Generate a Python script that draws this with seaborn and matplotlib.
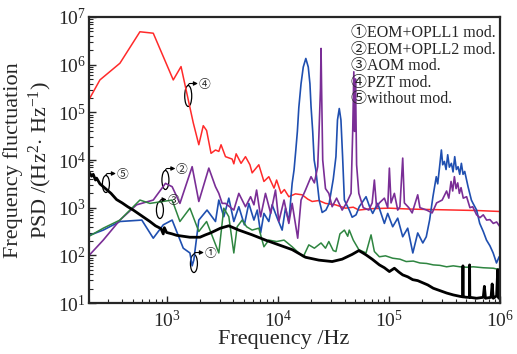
import numpy as np
import pandas as pd
import seaborn as sns
import matplotlib.pyplot as plt
from matplotlib.patches import Ellipse
from matplotlib.ticker import NullFormatter
from matplotlib.transforms import ScaledTranslation

# values, stored as decades (log10)
red_logf = [2.30, 2.40, 2.58, 2.76, 2.88, 3.06, 3.13, 3.24, 3.29, 3.33, 3.36, 3.40, 3.44, 3.47,
            3.49, 3.53, 3.59, 3.605, 3.626, 3.67, 3.71, 3.75, 3.77, 3.83, 3.876, 3.92, 3.967,
            3.99, 4.03, 4.06, 4.10, 4.16, 4.22, 4.27, 4.31, 4.37, 4.43, 4.52, 4.61, 4.68, 4.73,
            4.85, 5.00, 5.20, 5.40, 5.60, 5.80, 6.00]
red_logpsd = [5.26, 5.68, 6.03, 6.69, 6.66, 5.68, 5.96, 4.78, 4.32, 4.72, 4.62, 4.14, 4.21, 4.18,
              4.32, 4.07, 4.02, 3.92, 4.13, 3.93, 4.07, 3.90, 3.73, 3.90, 3.55, 3.65, 3.41,
              3.58, 3.30, 3.38, 3.23, 3.29, 3.27, 3.18, 3.13, 3.15, 3.09, 3.06, 2.99, 3.01, 2.95,
              2.98, 2.99, 2.97, 2.96, 2.95, 2.94, 2.92]

blue_logf = [2.295, 2.43, 2.58, 2.777, 2.88, 2.97, 3.05, 3.15, 3.21, 3.23, 3.245, 3.29, 3.364,
             3.44, 3.47, 3.515, 3.56, 3.605, 3.65, 3.70, 3.74, 3.786, 3.816, 3.846, 3.876, 3.92,
             3.95, 3.996, 4.04, 4.07, 4.10, 4.13, 4.147, 4.163, 4.177, 4.19, 4.21, 4.23, 4.253,
             4.275, 4.29, 4.30, 4.315, 4.328, 4.343, 4.373, 4.40, 4.434, 4.463, 4.50, 4.524,
             4.538, 4.554, 4.569, 4.584, 4.60, 4.644, 4.67, 4.705, 4.734, 4.795, 4.83, 4.855,
             4.90, 4.96, 4.99, 5.035, 5.08, 5.125, 5.17, 5.216, 5.26, 5.306, 5.337, 5.367, 5.397,
             5.427, 5.44, 5.457, 5.473, 5.485, 5.50, 5.515, 5.53, 5.545, 5.563, 5.578, 5.593,
             5.608, 5.623, 5.638, 5.653, 5.668, 5.683, 5.713, 5.743, 5.758, 5.79, 5.818, 5.85,
             5.879, 5.91, 5.939, 5.969, 5.993]
blue_logpsd = [2.41, 2.53, 2.71, 2.74, 2.36, 2.64, 2.74, 2.15, 2.05, 1.78, 1.90, 2.74, 2.95,
               2.71, 3.16, 2.81, 3.20, 2.71, 3.02, 2.64, 3.09, 2.74, 2.95, 2.47, 2.88, 2.71,
               3.06, 2.78, 2.53, 2.99, 2.71, 3.51, 3.79, 4.21, 4.60, 5.10, 5.60, 5.95, 6.13,
               5.95, 5.60, 5.12, 4.60, 4.00, 3.79, 3.16, 2.90, 2.95, 3.09, 3.60, 4.07,
               4.84, 5.08, 4.84, 4.07, 3.16, 2.95, 2.80, 2.85, 3.02, 3.23, 3.00, 2.88,
               3.09, 2.67, 2.88, 2.60, 2.78, 2.39, 2.57, 2.05, 2.47, 2.26, 2.39, 2.74, 3.23,
               3.65, 3.50, 3.86, 4.21, 3.90, 3.97, 3.80, 4.11, 3.85, 3.93, 3.75, 4.07,
               3.80, 3.86, 3.70, 3.93, 3.70, 3.76, 3.44, 3.16, 3.09, 2.95, 2.67, 2.50,
               2.32, 2.20, 2.05, 1.84, 1.97]

purple_logf = [2.295, 2.43, 2.58, 2.73, 2.88, 2.99, 3.05, 3.12, 3.23, 3.29, 3.38, 3.44, 3.47,
               3.50, 3.53, 3.605, 3.65, 3.71, 3.756, 3.786, 3.81, 3.846, 3.89, 3.937, 3.98,
               4.01, 4.057, 4.10, 4.13, 4.18, 4.21, 4.25, 4.30, 4.33, 4.36, 4.37, 4.385, 4.39,
               4.395, 4.405, 4.43, 4.46, 4.49, 4.53, 4.58, 4.62, 4.66, 4.675, 4.685, 4.692,
               4.70, 4.71, 4.73, 4.77, 4.82, 4.85, 4.87, 4.89, 4.915, 4.96, 4.99, 5.005, 5.02,
               5.05, 5.08, 5.10, 5.125, 5.14, 5.18, 5.21, 5.26, 5.28, 5.34, 5.39, 5.43, 5.48,
               5.52, 5.54, 5.56, 5.575, 5.59, 5.605, 5.62, 5.635, 5.65, 5.67, 5.70, 5.73,
               5.755, 5.79, 5.82, 5.85, 5.88, 5.91, 5.94, 5.97, 6.00]
purple_logpsd = [1.98, 2.32, 2.74, 3.06, 3.16, 3.51, 3.44, 3.09, 3.86, 3.13, 3.83, 3.44, 3.30,
                 3.09, 3.09, 2.95, 3.30, 3.02, 3.23, 3.06, 3.37, 2.81, 3.30, 2.88, 3.37,
                 2.71, 3.16, 2.67, 3.09, 2.36, 3.16, 3.37, 3.65, 3.52, 3.86, 4.47, 5.50, 6.34,
                 5.50, 4.00, 3.40, 3.30, 3.02, 3.20, 2.95, 3.10, 3.30, 4.60, 5.85, 4.60,
                 5.70, 3.90, 3.30, 3.00, 2.95, 3.10, 3.58, 3.00, 3.10, 3.20, 3.00, 3.83, 3.10,
                 3.30, 2.95, 3.02, 4.04, 3.10, 3.00, 2.89, 3.27, 3.00, 2.95, 2.89, 3.10, 3.16,
                 3.35, 3.20, 3.55, 3.35, 3.65, 3.40, 3.52, 3.30, 3.42, 3.20, 3.23, 3.00,
                 3.02, 2.85, 2.79, 2.85, 2.74, 2.75, 2.67, 2.70, 2.60]

green_logf = [2.295, 2.43, 2.58, 2.76, 2.85, 3.05, 3.12, 3.21, 3.29, 3.36, 3.47, 3.515, 3.56,
              3.605, 3.635, 3.68, 3.72, 3.77, 3.83, 3.876, 3.92, 3.99, 4.057, 4.13, 4.19, 4.23,
              4.28, 4.33, 4.39, 4.43, 4.46, 4.50, 4.524, 4.56, 4.60, 4.63, 4.644, 4.68, 4.73,
              4.795, 4.84, 4.87, 4.915, 4.97, 5.035, 5.10, 5.156, 5.22, 5.28, 5.34, 5.40, 5.46,
              5.52, 5.58, 5.64, 5.70, 5.76, 5.85, 5.94, 5.98, 6.00]
green_logpsd = [2.39, 2.57, 2.74, 3.16, 3.09, 3.16, 2.71, 2.99, 2.50, 2.71, 2.05, 2.99, 2.81,
                2.05, 2.60, 2.74, 2.60, 2.53, 2.57, 2.18, 2.32, 2.29, 2.32, 2.18, 2.05, 1.97,
                2.22, 2.15, 2.26, 2.15, 2.29, 2.10, 2.08, 2.45, 2.53, 2.40, 2.53, 2.32, 2.12,
                2.05, 2.43, 2.08, 1.97, 1.99, 1.94, 1.92, 1.87, 1.88, 1.84, 1.83, 1.80, 1.79,
                1.76, 1.78, 1.76, 1.75, 1.76, 1.74, 1.73, 1.71, 1.72]

black_logf = [2.29, 2.295, 2.30, 2.31, 2.325, 2.34, 2.36, 2.37, 2.40, 2.43, 2.46, 2.50, 2.55,
              2.60, 2.65, 2.70, 2.75, 2.80, 2.85, 2.90, 2.95, 2.97, 2.98, 3.00, 3.05, 3.09,
              3.15, 3.21, 3.30, 3.35, 3.395, 3.485, 3.56, 3.65, 3.77, 3.89, 4.01, 4.13, 4.25,
              4.37, 4.49, 4.58, 4.67, 4.73, 4.76, 4.795, 4.85, 4.915, 4.96, 5.005, 5.05, 5.09,
              5.125, 5.17, 5.215, 5.26, 5.31, 5.35, 5.40, 5.46, 5.52, 5.58, 5.64, 5.665, 5.667,
              5.669, 5.70, 5.725, 5.727, 5.729, 5.79, 5.85, 5.86, 5.87, 5.92, 5.93, 5.94, 5.97,
              5.98, 5.99, 6.00]
black_logpsd = [3.60, 3.75, 3.68, 3.72, 3.66, 3.70, 3.58, 3.62, 3.50, 3.44, 3.38, 3.30, 3.17,
                3.10, 3.02, 2.95, 2.87, 2.79, 2.71, 2.62, 2.56, 2.45, 2.58, 2.48, 2.45, 2.42,
                2.40, 2.38, 2.38, 2.43, 2.47, 2.57, 2.62, 2.53, 2.43, 2.32, 2.22, 2.12, 1.96,
                1.90, 1.87, 1.92, 2.02, 2.10, 2.06, 2.01, 1.92, 1.80, 1.74, 1.66, 1.73, 1.65,
                1.59, 1.55, 1.49, 1.47, 1.42, 1.38, 1.31, 1.26, 1.21, 1.17, 1.14, 1.13, 1.78,
                1.13, 1.12, 1.12, 1.80, 1.12, 1.10, 1.12, 1.35, 1.10, 1.12, 1.40, 1.10, 1.15,
                1.70, 1.10, 1.30]

legend_lines = ["①EOM+OPLL1 mod.", "②EOM+OPLL2 mod.", "③AOM mod.", "④PZT mod.", "⑤without mod."]

sns.set_style("ticks")
plt.rcParams['font.family'] = ['Liberation Serif', 'Noto Sans CJK JP', 'DejaVu Sans']
plt.rcParams['mathtext.fontset'] = 'custom'
plt.rcParams['mathtext.rm'] = 'Liberation Serif'
plt.rcParams['mathtext.it'] = 'Liberation Serif:italic'

fig = plt.figure(figsize=(5.17, 3.54), dpi=100)
ax = fig.add_axes([0.172, 0.144, 0.795, 0.808])

series = [
    (red_logf, red_logpsd, '#ff2a2a', 1.1),
    (blue_logf, blue_logpsd, '#1f4fb0', 1.2),
    (purple_logf, purple_logpsd, '#7a2e96', 1.2),
    (green_logf, green_logpsd, '#2e8540', 1.1),
    (black_logf, black_logpsd, 'black', 2.0),
]
for lf, lp, col, lw in series:
    df = pd.DataFrame({'f': 10 ** np.array(lf), 'psd': 10 ** np.array(lp)})
    sns.lineplot(data=df, x='f', y='psd', color=col, lw=lw, sort=False, estimator=None, ax=ax)

ax.set_xscale('log')
ax.set_yscale('log')
ax.set_xlim(200, 1e6)
ax.set_ylim(10, 1e7)
ax.xaxis.set_minor_formatter(NullFormatter())
ax.yaxis.set_minor_formatter(NullFormatter())
ax.set_xlabel('Frequency /Hz', fontsize=16)
ax.xaxis.set_label_coords(0.473, -0.095)
ax.set_ylabel('Frequency fluctuation\nPSD /(Hz$^2$$\\cdot$ Hz$^{-1}$)', fontsize=16, labelpad=3,
              linespacing=1.2)
ax.tick_params(which='both', direction='in', labelsize=14)
ax.tick_params(which='major', length=5, width=1)
ax.tick_params(which='minor', length=3, width=0.8)
ax.tick_params(axis='y', which='major', pad=2)
ax.tick_params(axis='x', which='major', pad=5)
for s in ax.spines.values():
    s.set_linewidth(1.6)

ax.text(0.637, 0.972, "\n".join(legend_lines), transform=ax.transAxes, va='top', ha='left',
        fontsize=11.5, linespacing=1.05)

# ellipse markers, hooked arrows and circled numbers (figure pixels of the layout)
marks = [
    ("④", 188.3, 96.0, 21, 198.0, 83.5),
    ("⑤", 106.0, 184.0, 17, 116.0, 173.5),
    ("②", 165.5, 180.0, 19, 175.5, 168.5),
    ("③", 160.0, 210.0, 17, 166.7, 199.5),
    ("①", 194.0, 263.5, 18, 204.0, 252.5),
]


def to_ax(px, py):
    return (px - 89) / 411, (303 - py) / 286


for lab, ex, ey, h, hx, hy in marks:
    cx, cy = to_ax(ex, ey)
    tr = fig.dpi_scale_trans + ScaledTranslation(cx, cy, ax.transAxes)
    ax.add_patch(Ellipse((0, 0), 0.07, h / 100, transform=tr, fill=False, ec='black', lw=0.9))
    ax.annotate('', xy=to_ax(hx, hy), xycoords='axes fraction', xytext=to_ax(ex, ey - h / 2),
                textcoords='axes fraction',
                arrowprops=dict(arrowstyle='-|>', connectionstyle='angle,angleA=90,angleB=0,rad=2',
                                lw=0.8, color='black', shrinkA=0, shrinkB=0, mutation_scale=6))
    ax.text(*to_ax(hx + 0.5, hy + 1.5), lab, transform=ax.transAxes, ha='left', va='center',
            fontsize=8.5)

fig.savefig('out.png', dpi=100)
